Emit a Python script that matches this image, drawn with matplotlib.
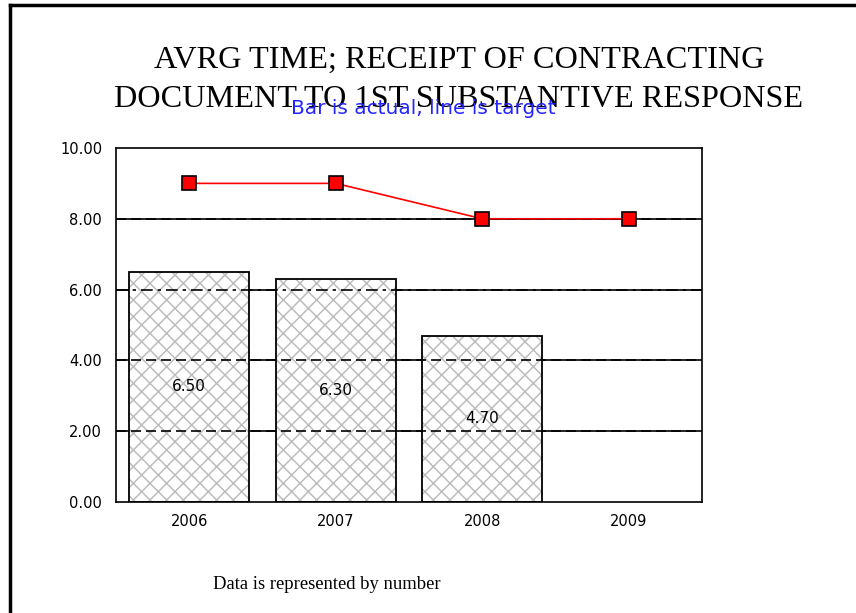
import numpy as np
import matplotlib.pyplot as plt

# data
years = ["2006", "2007", "2008", "2009"]
actual = [6.50, 6.30, 4.70]
target = [9.0, 9.0, 8.0, 8.0]
y_ticks = [0, 2, 4, 6, 8, 10]

fig = plt.figure(figsize=(8.56, 6.13), dpi=100)

# frame round the slide (top and left edges)
fig.add_artist(plt.Line2D([0.0117, 0.0117], [0, 0.992], transform=fig.transFigure,
                          color="black", lw=2.5))
fig.add_artist(plt.Line2D([0.0117, 1.0], [0.992, 0.992], transform=fig.transFigure,
                          color="black", lw=2.5))

fig.text(0.536, 0.889, "AVRG TIME; RECEIPT OF CONTRACTING", ha="center", va="baseline",
         family="Liberation Serif", fontsize=23.2)
fig.text(0.536, 0.8254, "DOCUMENT TO 1ST SUBSTANTIVE RESPONSE", ha="center", va="baseline",
         family="Liberation Serif", fontsize=23.2)
fig.text(0.494, 0.814, "Bar is actual, line is target", ha="center", va="baseline",
         family="DejaVu Sans", fontsize=14.5, color="#2424ff")
fig.text(0.382, 0.047, "Data is represented by number", ha="center", va="center",
         family="Liberation Serif", fontsize=13.4)

ax = fig.add_axes([0.1355, 0.1811, 0.6846, 0.5775])
x = np.arange(len(years))
xa = np.arange(len(actual))

# gridlines: solid behind, dashed drawn over the bars
for v in y_ticks[1:-1]:
    ax.axhline(v, color="black", lw=1.2, zorder=0)

plt.rcParams["hatch.linewidth"] = 1.1
ax.bar(xa, actual, width=0.82, color="white", edgecolor="#bdbdbd", hatch="xx",
       lw=0, zorder=1)
ax.bar(xa, actual, width=0.82, color="none", edgecolor="black", lw=1.3, zorder=3)

for v in y_ticks[1:-1]:
    style = (0, (7, 3, 2, 3)) if v == 6 else (0, (6, 3))
    ax.axhline(v, color="black", lw=1.2, ls=style, zorder=2)

for xi, v in zip(xa, actual):
    ax.text(xi, v / 2, f"{v:.2f}", ha="center", va="center", fontsize=11,
            family="DejaVu Sans", zorder=4)

ax.plot(x, target, color="red", lw=1.2, marker="s", markersize=10,
        markerfacecolor="red", markeredgecolor="black", markeredgewidth=1.2, zorder=5)

ax.set_xlim(-0.5, 3.5)
ax.set_ylim(0, 10)
ax.set_yticks(y_ticks)
ax.set_yticklabels([f"{t:.2f}" for t in y_ticks])
ax.set_xticks(x)
ax.set_xticklabels(years)
ax.tick_params(length=0, labelsize=10.5)
ax.tick_params(axis="y", pad=10)
ax.tick_params(axis="x", pad=9)
for s in ax.spines.values():
    s.set_linewidth(1.2)
    s.set_zorder(6)

fig.savefig("out.png", dpi=100)
